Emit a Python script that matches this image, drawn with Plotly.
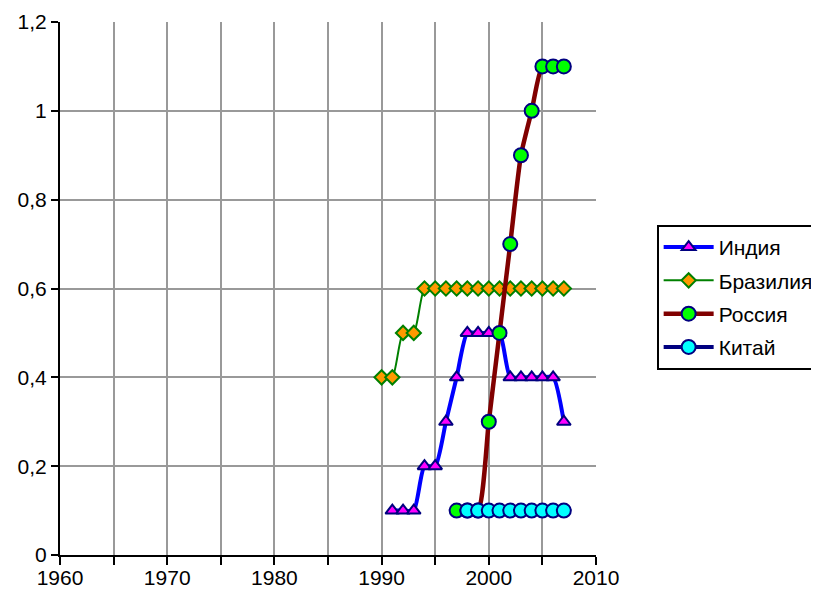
import plotly.graph_objects as go

india_years = [1991, 1992, 1993, 1994, 1995, 1996, 1997, 1998, 1999, 2000, 2001, 2002, 2003, 2004, 2005, 2006, 2007]
india_vals = [0.1, 0.1, 0.1, 0.2, 0.2, 0.3, 0.4, 0.5, 0.5, 0.5, 0.5, 0.4, 0.4, 0.4, 0.4, 0.4, 0.3]

brazil_years = [1990, 1991, 1992, 1993, 1994, 1995, 1996, 1997, 1998, 1999, 2000, 2001, 2002, 2003, 2004, 2005, 2006, 2007]
brazil_vals = [0.4, 0.4, 0.5, 0.5, 0.6, 0.6, 0.6, 0.6, 0.6, 0.6, 0.6, 0.6, 0.6, 0.6, 0.6, 0.6, 0.6, 0.6]

russia_years = [1997, 1998, 1999, 2000, 2001, 2002, 2003, 2004, 2005, 2006, 2007]
russia_vals = [0.1, 0.1, 0.1, 0.3, 0.5, 0.7, 0.9, 1.0, 1.1, 1.1, 1.1]

china_years = [1998, 1999, 2000, 2001, 2002, 2003, 2004, 2005, 2006, 2007]
china_vals = [0.1, 0.1, 0.1, 0.1, 0.1, 0.1, 0.1, 0.1, 0.1, 0.1]

x_ticks = [1960, 1970, 1980, 1990, 2000, 2010]

fig = go.Figure()
fig.add_trace(go.Scatter(
    x=india_years, y=india_vals, name="Индия", mode="lines+markers", legendgroup="in",
    line=dict(color="#0000FF", width=4, shape="spline", smoothing=0.6),
    marker=dict(symbol="triangle-up", size=12, color="#FF00FF", line=dict(color="#000080", width=2))))
fig.add_trace(go.Scatter(
    x=brazil_years, y=brazil_vals, name="Бразилия", mode="lines+markers", legendgroup="br",
    line=dict(color="#008000", width=2, shape="spline", smoothing=0.6),
    marker=dict(symbol="diamond", size=11, color="#FF9900", line=dict(color="#008000", width=2))))
fig.add_trace(go.Scatter(
    x=russia_years, y=russia_vals, name="Россия", mode="lines+markers", legendgroup="ru",
    line=dict(color="#800000", width=4.5, shape="spline", smoothing=0.6),
    marker=dict(symbol="circle", size=14, color="#00FF00", line=dict(color="#000080", width=2))))
fig.add_trace(go.Scatter(
    x=china_years, y=china_vals, name="Китай", mode="lines+markers", legendgroup="cn",
    line=dict(color="#000080", width=4, shape="spline", smoothing=0.6),
    marker=dict(symbol="circle", size=14, color="#00FFFF", line=dict(color="#000080", width=2))))

font = dict(family="Liberation Sans, Arial, sans-serif", size=21, color="black")

fig.update_layout(
    width=819, height=591,
    margin=dict(l=52, r=231, t=14, b=44),
    paper_bgcolor="white", plot_bgcolor="white",
    separators=", ",
    font=font,
    showlegend=True,
    legend=dict(xref="container", yref="container", x=0.792, y=0.633,
                xanchor="left", yanchor="top",
                bordercolor="black", borderwidth=2, bgcolor="white",
                font=dict(family="Liberation Sans, Arial, sans-serif", size=21, color="black"),
                tracegroupgap=3, itemwidth=50),
    xaxis=dict(range=[1960, 2010], tickvals=x_ticks, ticks="outside", ticklen=8, tickwidth=2,
               tickcolor="black", showline=True, linecolor="black", linewidth=2,
               showgrid=True, gridcolor="#999999", gridwidth=2, zeroline=False, automargin=False,
               ticklabelstandoff=-5,
               minor=dict(dtick=5, tick0=1960, showgrid=True, gridcolor="#999999", gridwidth=2,
                          ticks="outside", ticklen=8, tickwidth=2, tickcolor="black"),
               tickfont=font),
    yaxis=dict(range=[0, 1.2], dtick=0.2, ticks="outside", ticklen=7, tickwidth=2,
               tickcolor="black", showline=True, linecolor="black", linewidth=2,
               showgrid=True, gridcolor="#999999", gridwidth=2, zeroline=False, automargin=False,
               tickfont=font),
)

fig.write_html("out.html")
